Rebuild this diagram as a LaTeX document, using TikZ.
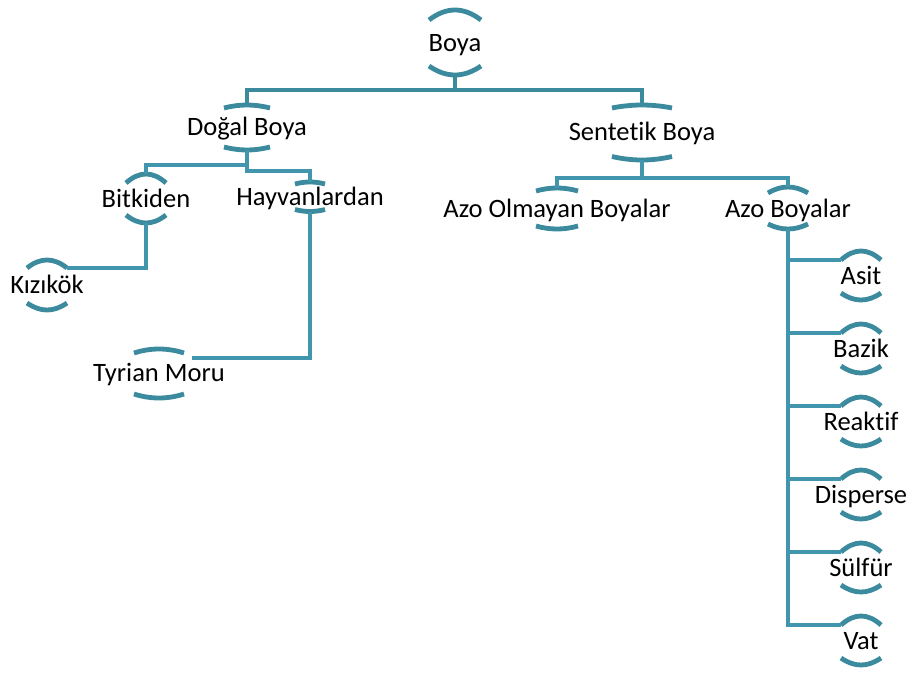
\documentclass[tikz,border=0pt]{standalone}
\usepackage{fontspec}
\setmainfont[Ligatures=NoCommon]{Carlito}
\begin{document}
\begin{tikzpicture}[x=0.75pt,y=-0.75pt,
  arcline/.style={draw=arccol,line width=3.6pt},
  conn/.style={draw=conncol,line width=3.6pt},
  lbl/.style={inner sep=0pt,anchor=base,font=\fontsize{19.9pt}{22pt}\selectfont}]
\definecolor{arccol}{HTML}{3B8A9E}
\definecolor{conncol}{HTML}{4196AD}
\useasboundingbox (0,0) rectangle (911,672);
% #1 name, #2 cx, #3 baseline, #4 text, #5 half width, #6 top apex y, #7 top end y, #8 bottom apex y, #9 bottom end y
\newcommand{\hnode}[9]{%
  \node[lbl] (#1) at (#2,#3) {#4};
  \coordinate (#1-t) at (#2,#6);
  \coordinate (#1-b) at (#2,#8);
  \coordinate (#1-tl) at ({#2-#5},#7);
  \coordinate (#1-tr) at ({#2+#5},#7);
  \draw[arcline] ({#2-#5},#7) .. controls ({#2-#5/3},{#6-(#7-#6)/3}) and ({#2+#5/3},{#6-(#7-#6)/3}) .. ({#2+#5},#7);
  \draw[arcline] ({#2-#5},#9) .. controls ({#2-#5/3},{#8+(#8-#9)/3}) and ({#2+#5/3},{#8+(#8-#9)/3}) .. ({#2+#5},#9);
}
\hnode{boya}{455}{51}{Boya}{26}{10}{20}{75}{66}
\hnode{dogal}{247}{135}{Doğal Boya}{23}{105}{108}{150}{147}
\hnode{sentetik}{642}{140}{Sentetik Boya}{30}{105}{108}{160}{156.5}
\hnode{bitkiden}{146}{207}{Bitkiden}{20}{174}{183}{223}{215}
\hnode{hayvan}{310}{205}{Hayvanlardan}{15}{182}{184}{211.5}{209.5}
\hnode{kizikok}{47}{293}{Kızıkök}{20}{260}{268}{310}{303}
\hnode{tyrian}{159}{381}{Tyrian Moru}{25}{349}{353}{398}{394}
\hnode{azoolm}{557}{217}{Azo Olmayan Boyalar}{21}{188}{191}{229}{226}
\hnode{azo}{788}{217}{Azo Boyalar}{20}{187}{193}{229}{224}
\hnode{asit}{861}{284}{Asit}{20}{251}{260}{300}{293}
\hnode{bazik}{861}{357}{Bazik}{20}{324}{333}{373}{366}
\hnode{reaktif}{861}{430}{Reaktif}{20}{397}{406}{446}{439}
\hnode{disperse}{861}{503}{Disperse}{20}{470}{479}{519}{512}
\hnode{sulfur}{861}{576}{Sülfür}{20}{543}{552}{592}{585}
\hnode{vat}{861}{649}{Vat}{20}{616}{625}{665}{658}
\coordinate (tyrian-in) at (192,358);
% connectors
\draw[conn,draw=arccol] (boya-b) -- ++(0,15) -| (dogal-t);
\draw[conn,draw=arccol] (boya-b) -- ++(0,15) -| (sentetik-t);
\draw[conn] (dogal-b) -- ++(0,15) -| (bitkiden-t);
\draw[conn] (dogal-b) -- ++(0,21) -| (hayvan-t);
\draw[conn] (bitkiden-b) |- (kizikok-tr);
\draw[conn] (hayvan-b) |- (tyrian-in);
\draw[conn] (sentetik-b) -- ++(0,18) -| (azoolm-t);
\draw[conn] (sentetik-b) -- ++(0,18) -| (azo-t);
\draw[conn] (azo-b) |- (asit-tl);
\draw[conn] (azo-b) |- (bazik-tl);
\draw[conn] (azo-b) |- (reaktif-tl);
\draw[conn] (azo-b) |- (disperse-tl);
\draw[conn] (azo-b) |- (sulfur-tl);
\draw[conn] (azo-b) |- (vat-tl);
\end{tikzpicture}
\end{document}
